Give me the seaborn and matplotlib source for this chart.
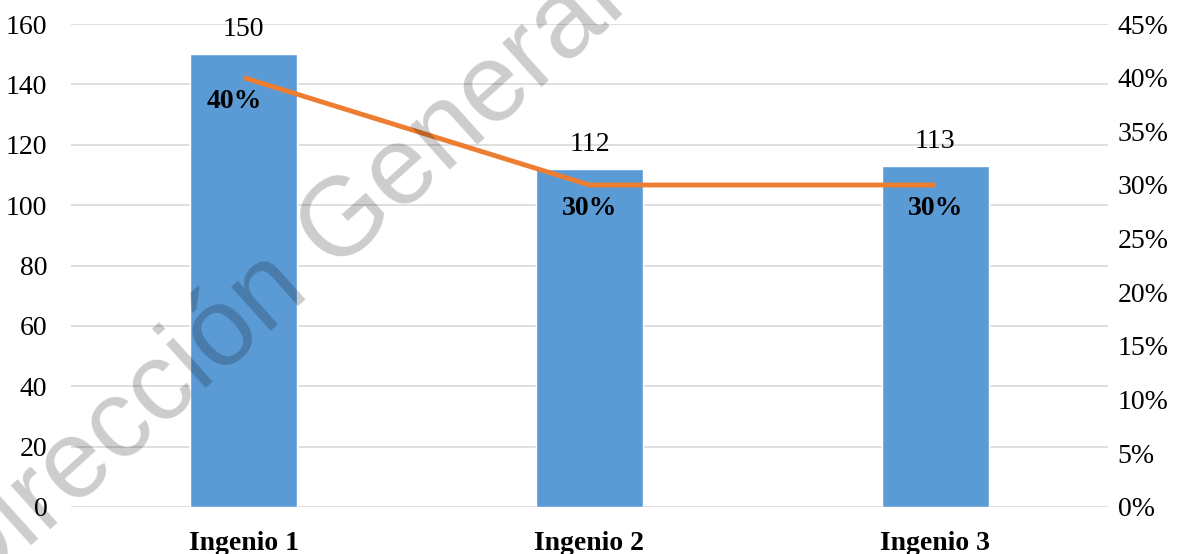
import matplotlib
matplotlib.use("Agg")
import matplotlib.pyplot as plt
import seaborn as sns
import pandas as pd
from matplotlib.ticker import FuncFormatter, MultipleLocator

categories = ["Ingenio 1", "Ingenio 2", "Ingenio 3"]
counts = [150, 112, 113]
shares = [0.40, 0.30, 0.30]
share_labels = ["40%", "30%", "30%"]

sns.set_theme(style="white")
plt.rcParams["font.family"] = ["Liberation Serif", "DejaVu Serif"]

BAR = "#5b9bd5"
LINE = "#ed7d31"
GRID = "#d9d9d9"
FS = 20

fig = plt.figure(figsize=(11.88, 5.54), dpi=100)
ax = fig.add_axes([71 / 1188, 1 - 507 / 554, (1108 - 71) / 1188, (507 - 24) / 554])

df = pd.DataFrame({"cat": categories, "count": counts, "share": shares})
sns.barplot(data=df, x="cat", y="count", color=BAR, width=0.31, ax=ax,
            saturation=1, zorder=2)
ax.set_xlim(-0.5, 2.5)
ax.set_ylim(0, 160)
ax.yaxis.set_major_locator(MultipleLocator(20))
ax.grid(axis="y", color=GRID, linewidth=1.2, zorder=0)
ax.set_axisbelow(True)
ax.set_xlabel("")
ax.set_ylabel("")
for s in ax.spines.values():
    s.set_visible(False)
ax.tick_params(axis="y", length=0, pad=17, labelsize=FS, colors="black")
ax.tick_params(axis="x", length=0, pad=17, labelsize=FS, colors="black")
for lab in ax.get_xticklabels():
    lab.set_fontweight("bold")

for i, v in enumerate(counts):
    ax.annotate(str(v), (i, v), xytext=(0, 13), textcoords="offset points",
                ha="center", va="baseline", fontsize=FS, color="black")

ax2 = ax.twinx()
ax2.set_position(ax.get_position())
sns.lineplot(x=[0, 1, 2], y=shares, color=LINE, linewidth=3.5, ax=ax2,
             solid_capstyle="butt", zorder=3)
ax2.set_xlim(-0.5, 2.5)
ax2.set_ylim(0, 0.45)
ax2.yaxis.set_major_locator(MultipleLocator(0.05))
ax2.yaxis.set_major_formatter(FuncFormatter(lambda v, p: f"{round(v * 100):d}%"))
ax2.grid(False)
for s in ax2.spines.values():
    s.set_visible(False)
ax2.tick_params(axis="y", length=0, pad=7, labelsize=FS, colors="black")
ax2.set_ylabel("")

for i, (v, t) in enumerate(zip(shares, share_labels)):
    dx = -7 if i == 0 else 0
    ax2.annotate(t, (i, v), xytext=(dx, -8), textcoords="offset points",
                 ha="center", va="top", fontsize=FS, fontweight="bold",
                 color="black")

# watermark
fig.text(278 / 1188, 1 - 285 / 554, "Dirección General", fontsize=80,
         family="Liberation Sans", color="black", alpha=0.2, rotation=42,
         ha="center", va="center", rotation_mode="anchor", zorder=10)

fig.savefig("out.png", dpi=100)
